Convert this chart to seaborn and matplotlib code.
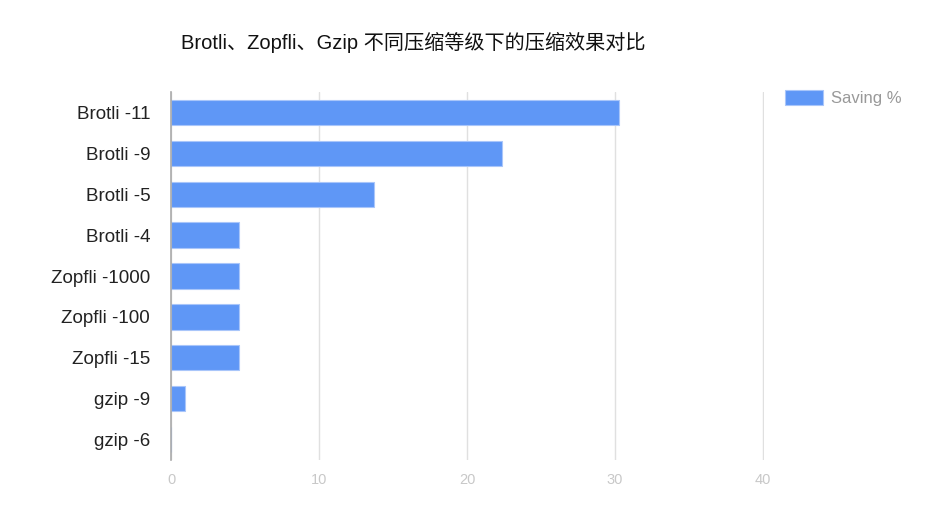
import matplotlib
matplotlib.use("Agg")
import matplotlib.pyplot as plt
import seaborn as sns
import pandas as pd

# compression levels and saving percentage
labels = ['Brotli -11', 'Brotli -9', 'Brotli -5', 'Brotli -4', 'Zopfli -1000',
          'Zopfli -100', 'Zopfli -15', 'gzip -9', 'gzip -6']
saving = [30.3, 22.4, 13.7, 4.6, 4.6, 4.6, 4.6, 0.95, 0.0]
xticks = [0, 10, 20, 30, 40]

df = pd.DataFrame({'label': labels, 'Saving %': saving})

sns.set_style('white')
plt.rcParams['font.family'] = ['Liberation Sans', 'Noto Sans CJK SC', 'DejaVu Sans']

fig = plt.figure(figsize=(9.26, 5.07), dpi=100)
ax = fig.add_axes([0.1847, 0.0927, 0.6404, 0.7258])

sns.barplot(data=df, y='label', x='Saving %', ax=ax, color='#5f97f6',
            saturation=1, width=0.62, edgecolor='#a9c6fa', linewidth=0.8,
            label='Saving %')

ax.set_xlim(0, 40.08)
ax.set_xticks(xticks)
ax.set_xticklabels([str(t) for t in xticks], color='#c8c8c8', fontsize=10.5)
ax.tick_params(axis='x', length=0, pad=9)
ax.tick_params(axis='y', length=0, pad=15, labelsize=13.5, labelcolor='#222222')
ax.set_xlabel('')
ax.set_ylabel('')
ax.xaxis.grid(True, color='#e0e0e0', linewidth=1)
ax.set_axisbelow(True)
for s in ['top', 'right', 'bottom']:
    ax.spines[s].set_visible(False)
ax.spines['left'].set_color('#aaaaaa')
ax.spines['left'].set_linewidth(1.2)

leg = ax.legend(loc='upper left', bbox_to_anchor=(1.01, 1.045), frameon=False,
                fontsize=12, handlelength=2.3, handleheight=0.95, handletextpad=0.45)
for t in leg.get_texts():
    t.set_color('#999999')

fig.text(0.446, 0.917, 'Brotli、Zopfli、Gzip 不同压缩等级下的压缩效果对比',
         ha='center', va='center', fontsize=14.5, color='#111111')

fig.savefig('out.png', dpi=100)
